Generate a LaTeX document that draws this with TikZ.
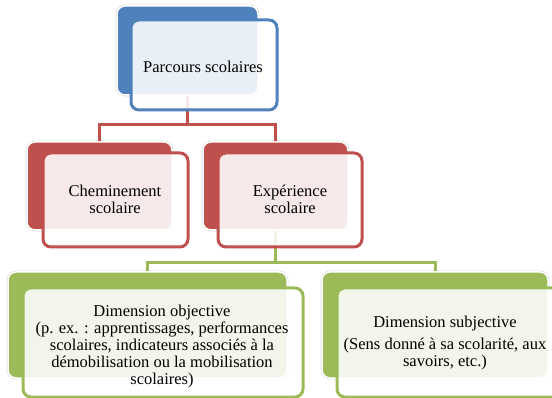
\documentclass[tikz,border=0pt]{standalone}
\usepackage{fontspec}
\setmainfont{Liberation Serif}
\definecolor{sblue}{HTML}{4F81BD}
\definecolor{sred}{HTML}{C0504D}
\definecolor{sgreen}{HTML}{9BBB59}
\tikzset{
  backbox/.style={rounded corners=8pt, fill=#1, draw=white, line width=1.5pt,
    preaction={draw=black!15, line width=2.6pt}, inner sep=0pt},
  frontbox/.style={rounded corners=8pt, draw=#1, line width=3pt, fill=white,
    fill opacity=0.88, text opacity=1, inner sep=0pt},
  conn/.style={draw=#1, line width=3pt},
  txt/.style={align=center, font=\fontsize{16.5}{17}\selectfont, inner sep=0pt}
}
\begin{document}
\begin{tikzpicture}[x=1pt,y=-1pt]
\useasboundingbox (0,0) rectangle (552,398);
% back boxes
\node[backbox=sblue, minimum width=141pt, minimum height=89pt] (pb) at (187.5,50.5) {};
\node[backbox=sred, minimum width=145pt, minimum height=88pt] (cb) at (99.5,186) {};
\node[backbox=sred, minimum width=145pt, minimum height=88pt] (eb) at (275.5,186) {};
\node[backbox=sgreen, minimum width=279pt, minimum height=106pt] (ob) at (147.5,325) {};
\node[backbox=sgreen, minimum width=226pt, minimum height=106pt] (sb) at (435,325) {};
% connectors
\coordinate (rj) at (187.5,125);
\coordinate (gj) at (275.5,263);
\draw[conn=sred] (pb.south) -- (rj) -| (cb.north);
\draw[conn=sred] (rj) -| (eb.north);
\draw[conn=sgreen] (eb.south) -- (gj) -| (ob.north);
\draw[conn=sgreen] (gj) -| (sb.north);
% front boxes
\node[frontbox=sblue, minimum width=146pt, minimum height=90pt] (pf) at (204,65) {};
\node[frontbox=sred, minimum width=145pt, minimum height=94pt] (cf) at (115.5,200) {};
\node[frontbox=sred, minimum width=144pt, minimum height=94pt] (ef) at (290,200) {};
\node[frontbox=sgreen, minimum width=280pt, minimum height=109pt] (of) at (163,342.5) {};
\node[frontbox=sgreen, minimum width=226pt, minimum height=109pt] (sf) at (450,342.5) {};
% texts
\node[txt] (pt) at (203,67) {Parcours scolaires};
\node[txt] (ct) at (115,199) {Cheminement\\scolaire};
\node[txt] (et) at (290,199) {Expérience\\scolaire};
\node[txt] (ot) at (162,347) {Dimension objective\\(p. ex. : apprentissages, performances\\scolaires, indicateurs associés à la\\démobilisation ou la mobilisation\\scolaires)};
\node[txt] (st) at (445,343) {Dimension subjective\\[5pt](Sens donné à sa scolarité, aux\\savoirs, etc.)};
\end{tikzpicture}
\end{document}
